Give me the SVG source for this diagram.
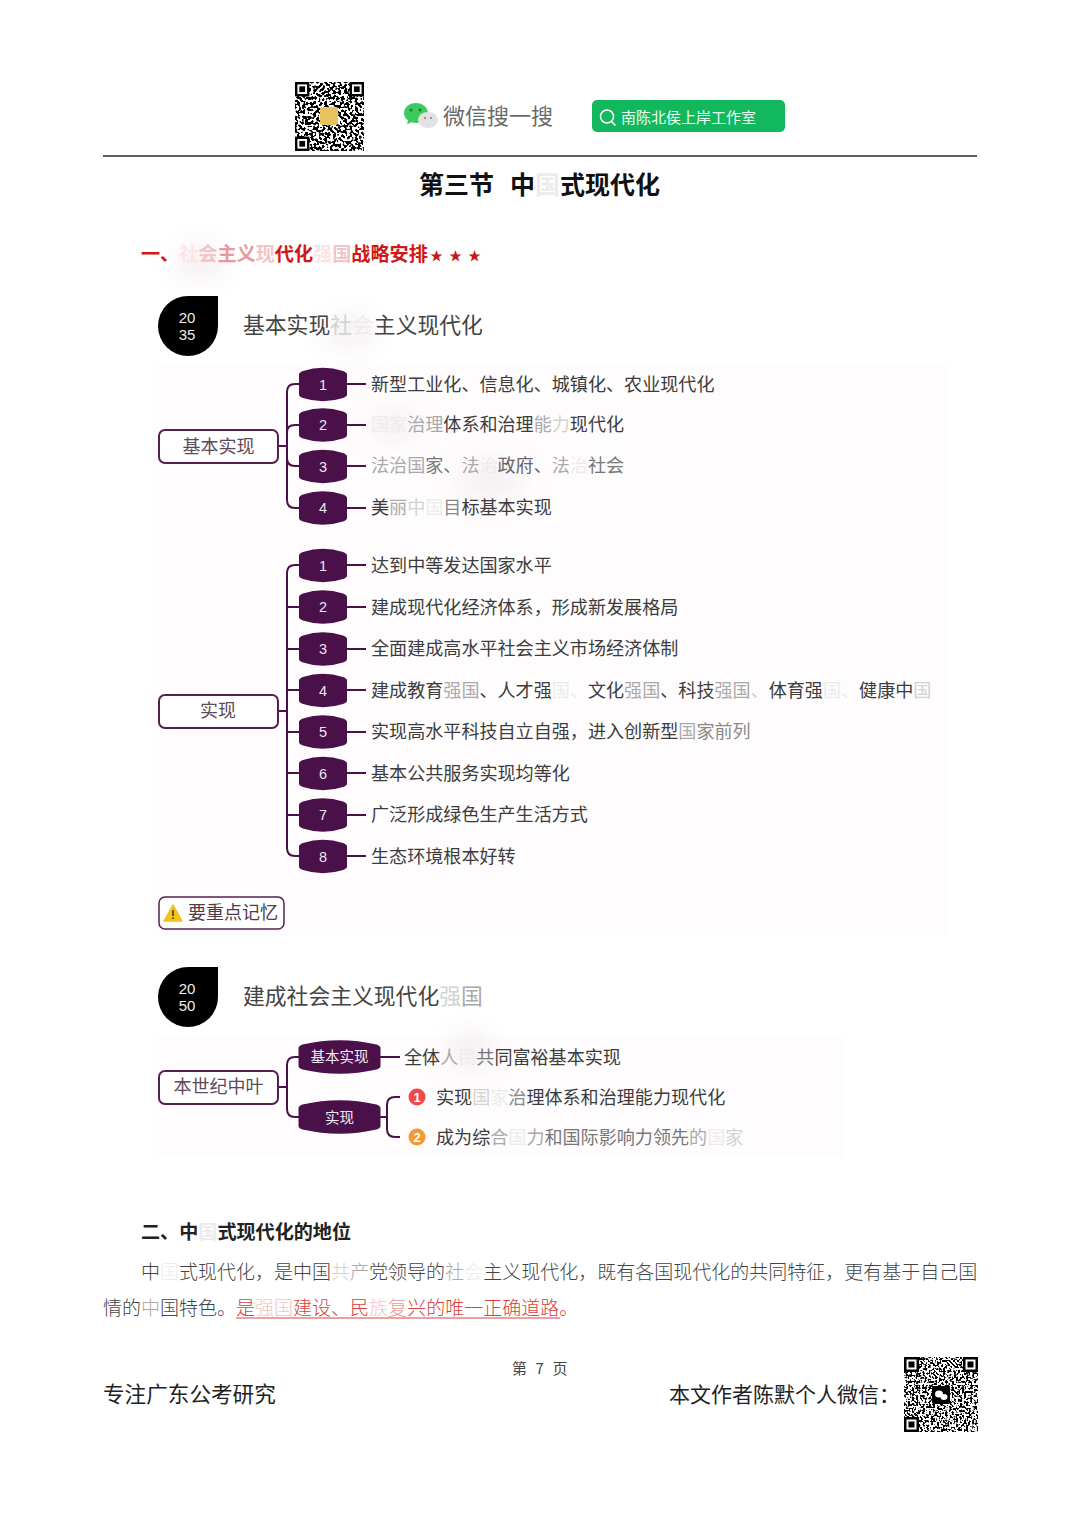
<svg xmlns="http://www.w3.org/2000/svg" width="1080" height="1528" viewBox="0 0 1080 1528">
<style>
text{font-family:"Noto Sans CJK SC","Liberation Sans",sans-serif}
.t{font-size:18.08px;fill:#3c3c3c}
.h{font-size:21.8px;fill:#444}
.n{font-family:"Liberation Sans",sans-serif;font-size:14.5px;fill:#f0e6f0;text-anchor:middle}
.nw{font-size:14.5px;fill:#f3eaf3;text-anchor:middle}
.b{font-size:18px;fill:#5d4a5c;text-anchor:middle}
.box{fill:#fff;stroke:#54204f;stroke-width:2}
.c{fill:none;stroke:#4a1049;stroke-width:2}
.p{font-size:19px;fill:#444;font-weight:300}
.f1{fill:#aaa}.f2{fill:#d2d2d2}.f3{fill:#ececec}
.r1{fill:#e89a9a}.r2{fill:#f2c4c4}.r3{fill:#fae6e6}
.drop{fill:#000}.node{fill:#4a1049}
.yr{font-family:"Liberation Sans",sans-serif;font-size:15px;fill:#eee;text-anchor:middle}
</style>
<defs>
<filter id="qr" x="0" y="0" width="100%" height="100%" color-interpolation-filters="sRGB">
<feTurbulence type="fractalNoise" baseFrequency="0.36" numOctaves="1" seed="7"/>
<feColorMatrix values="22 0 0 0 -10.6 22 0 0 0 -10.6 22 0 0 0 -10.6 0 0 0 0 1"/>
</filter>
<filter id="qr2" x="0" y="0" width="100%" height="100%" color-interpolation-filters="sRGB">
<feTurbulence type="fractalNoise" baseFrequency="0.48" numOctaves="1" seed="3"/>
<feColorMatrix values="16 0 0 0 -7.2 16 0 0 0 -7.2 16 0 0 0 -7.2 0 0 0 0 1"/>
</filter>
<filter id="soft" x="-50%" y="-50%" width="200%" height="200%"><feGaussianBlur stdDeviation="12"/></filter>
<path id="barrel" d="M-24 -10Q-24 -12 -20 -13.500Q0 -20 20 -13.500Q24 -12 24 -10V10Q24 12 20 13.500Q0 20 -20 13.500Q-24 12 -24 10Z"/>
<path id="barrelW" d="M-41 -9Q-41 -11 -37 -12.500Q0 -21 37 -12.500Q41 -11 41 -9V9Q41 11 37 12.500Q0 21 -37 12.500Q-41 11 -41 9Z"/>
<g id="finder"><rect x="1" y="1" width="10" height="10" fill="#fff" stroke="#000" stroke-width="2"/><rect x="3.600" y="3.600" width="4.800" height="4.800" fill="#000"/></g>
</defs>
<rect width="1080" height="1528" fill="#fff"/>

<rect id="panel-a" x="153" y="362" width="797" height="574" fill="#fefcfd"/>
<rect id="panel-b" x="153" y="1038" width="692" height="120" fill="#fefcfd"/>

<g id="smudges" filter="url(#soft)" fill="#f3e9ec" opacity=".7">
<ellipse cx="200" cy="262" rx="26" ry="18"/>
<ellipse cx="350" cy="332" rx="28" ry="16"/>
<ellipse cx="395" cy="425" rx="24" ry="14"/>
<ellipse cx="490" cy="480" rx="34" ry="18"/>
<ellipse cx="470" cy="1050" rx="22" ry="20"/>
</g>

<g id="header">
<g id="qr-top">
<rect x="295" y="82" width="69" height="69" filter="url(#qr)"/>
<use href="#finder" transform="translate(295 82) scale(1.2)"/>
<use href="#finder" transform="translate(349.600 82) scale(1.2)"/>
<use href="#finder" transform="translate(295 136.600) scale(1.2)"/>
<rect x="320" y="107" width="18" height="18" rx="2" fill="#e8c25e"/>
</g>
<g id="wechat-icon">
<path d="M416 103c-7 0-12 4.600-12 10 0 3 1.500 5.600 4 7.400l-1 4 4.300-2.200c1.500.5 3 .8 4.700.8 6.600 0 12-4.600 12-10s-5.400-10-12-10z" fill="#3fca5e"/>
<circle cx="411" cy="110" r="1.500" fill="#1c7a35"/><circle cx="420" cy="110" r="1.500" fill="#1c7a35"/>
<ellipse cx="428" cy="120" rx="10" ry="8" fill="#e2e2e2"/>
<circle cx="425" cy="118" r="1.200" fill="#999"/><circle cx="431" cy="118" r="1.200" fill="#999"/>
</g>
<text x="443" y="124" style="font-size:22px;fill:#6a6a6a">微信搜一搜</text>
<g id="search-badge">
<rect x="592" y="100" width="193" height="32" rx="5" fill="#12b85e"/>
<circle cx="607" cy="116.500" r="6.500" fill="none" stroke="#fff" stroke-width="1.500"/>
<path d="M611.500 121.500L615.500 125.500" stroke="#fff" stroke-width="1.500"/>
<text x="621" y="122.500" style="font-size:15px;fill:#e8fff2">南陈北侯上岸工作室</text>
</g>
<path d="M103 156H977" stroke="#2a2a2a" stroke-width="1.500"/>
</g>

<text y="194" style="font-size:25px;font-weight:700;fill:#111"><tspan x="419">第三节</tspan><tspan x="510">中</tspan><tspan class="f3">国</tspan>式现代化</text>
<text x="141" y="261" style="font-size:19.130px;font-weight:700;fill:#d01818">一、<tspan class="r3">社</tspan><tspan class="r2">会</tspan><tspan class="r1">主义</tspan><tspan class="r2">现</tspan>代化<tspan class="r3">强</tspan><tspan class="r2">国</tspan>战略安排</text>
<text x="430" y="260" style="font-size:13px;fill:#c81818">★</text>
<text x="449" y="260" style="font-size:13px;fill:#c81818">★</text>
<text x="468" y="260" style="font-size:13px;fill:#c81818">★</text>

<g id="stage-2035">
<path class="drop" d="M218 296V326A30 30 0 1 1 188 296Z"/>
<text class="yr" x="187" y="323">20</text><text class="yr" x="187" y="340">35</text>
<text class="h" x="243" y="333">基本实现<tspan class="f2">社</tspan><tspan class="f3">会</tspan>主义现代化</text>
</g>

<g id="connectors">
<path class="c" d="M278 446H287M287 392Q287 384 295 384H299M287 432Q287 425 295 425H299M287 458Q287 466 295 466H299M287 500Q287 508 295 508H299M287 392V500"/>
<path class="c" d="M347 384H366M347 425H366M347 466H366M347 508H366"/>
<path class="c" d="M278 711H287M287 573Q287 565 295 565H299M287 573V848Q287 856 295 856H299M287 607H299M287 649H299M287 690H299M287 732H299M287 773H299M287 815H299"/>
<path class="c" d="M347 565H366M347 607H366M347 649H366M347 690H366M347 732H366M347 773H366M347 815H366M347 856H366"/>
<path class="c" d="M278 1087H287M287 1065Q287 1057 295 1057H299M287 1065V1109Q287 1117 295 1117H299"/>
<path class="c" d="M380 1057H400M380 1117H387M387 1105Q387 1097 395 1097H400M387 1105V1129Q387 1137 395 1137H400"/>
</g>

<g id="root-basic"><rect class="box" x="159" y="430" width="119" height="33" rx="6"/><text class="b" x="218.500" y="453">基本实现</text></g>
<g id="root-real"><rect class="box" x="159" y="695" width="119" height="33" rx="6"/><text class="b" x="218" y="717">实现</text></g>

<g id="a1"><use class="node" href="#barrel" x="323" y="384.500"/><text class="n" x="323" y="389.500">1</text><text class="t" x="371" y="391">新型工业化、信息化、城镇化、农业现代化</text></g>
<g id="a2"><use class="node" href="#barrel" x="323" y="425"/><text class="n" x="323" y="430">2</text><text class="t" x="371" y="431"><tspan class="f3">国家</tspan><tspan class="f1">治理</tspan>体系和治理<tspan class="f1">能</tspan><tspan class="f2">力</tspan>现代化</text></g>
<g id="a3"><use class="node" href="#barrel" x="323" y="466.500"/><text class="n" x="323" y="471.500">3</text><text class="t" x="371" y="472"><tspan class="f1">法治国</tspan><tspan fill="#777">家、</tspan><tspan class="f1">法</tspan><tspan class="f3">治</tspan><tspan fill="#666">政府、</tspan><tspan class="f1">法</tspan><tspan class="f3">治</tspan><tspan fill="#777">社会</tspan></text></g>
<g id="a4"><use class="node" href="#barrel" x="323" y="508"/><text class="n" x="323" y="513">4</text><text class="t" x="371" y="514">美<tspan class="f1">丽</tspan><tspan class="f2">中</tspan><tspan class="f3">国</tspan><tspan fill="#888">目</tspan>标基本实现</text></g>

<g id="b1"><use class="node" href="#barrel" x="323" y="565.500"/><text class="n" x="323" y="570.500">1</text><text class="t" x="371" y="572">达到中等发达国家水平</text></g>
<g id="b2"><use class="node" href="#barrel" x="323" y="607"/><text class="n" x="323" y="612">2</text><text class="t" x="371" y="613.500">建成现代化经济体系，形成新发展格局</text></g>
<g id="b3"><use class="node" href="#barrel" x="323" y="649"/><text class="n" x="323" y="654">3</text><text class="t" x="371" y="655">全面建成高水平社会主义市场经济体制</text></g>
<g id="b4"><use class="node" href="#barrel" x="323" y="690.500"/><text class="n" x="323" y="695.500">4</text><text class="t" x="371" y="696.500">建成教育<tspan class="f1">强国</tspan>、人才强<tspan class="f3">国、</tspan>文化<tspan class="f1">强国</tspan>、科技<tspan class="f1">强国</tspan><tspan class="f2">、</tspan>体育强<tspan class="f3">国、</tspan>健康中<tspan class="f2">国</tspan></text></g>
<g id="b5"><use class="node" href="#barrel" x="323" y="732"/><text class="n" x="323" y="737">5</text><text class="t" x="371" y="738">实现高水平科技自立自强，进入创新型<tspan class="f1">国</tspan><tspan fill="#888">家前列</tspan></text></g>
<g id="b6"><use class="node" href="#barrel" x="323" y="773.500"/><text class="n" x="323" y="778.500">6</text><text class="t" x="371" y="780">基本公共服务实现均等化</text></g>
<g id="b7"><use class="node" href="#barrel" x="323" y="815"/><text class="n" x="323" y="820">7</text><text class="t" x="371" y="821">广泛形成绿色生产生活方式</text></g>
<g id="b8"><use class="node" href="#barrel" x="323" y="856.500"/><text class="n" x="323" y="861.500">8</text><text class="t" x="371" y="862.500">生态环境根本好转</text></g>

<g id="memo">
<rect class="box" x="159" y="897" width="125" height="32" rx="6" style="stroke-width:1.500"/>
<path d="M173 905L182 921H164Z" fill="#f2c21b" stroke="#f2c21b" stroke-linejoin="round" stroke-width="1.500"/>
<path d="M173 910V916M173 917.500V919" stroke="#333" stroke-width="1.500"/>
<text x="188" y="919" style="font-size:18px;fill:#4d3c4c">要重点记忆</text>
</g>

<g id="stage-2050">
<path class="drop" d="M218 967V997A30 30 0 1 1 188 967Z"/>
<text class="yr" x="187" y="994">20</text><text class="yr" x="187" y="1011">50</text>
<text class="h" x="243" y="1004">建成社会主义现代化<tspan class="f2">强</tspan><tspan fill="#aaa">国</tspan></text>
</g>

<g id="root-mid"><rect class="box" x="159" y="1071" width="119" height="33" rx="6"/><text class="b" x="218.500" y="1093">本世纪中叶</text></g>
<g id="c1"><use class="node" href="#barrelW" x="339.500" y="1057"/><text class="nw" x="339.500" y="1062">基本实现</text>
<text class="t" x="404" y="1063.500">全体<tspan class="f1">人</tspan><tspan class="f3">民</tspan><tspan fill="#777">共</tspan>同富裕基本实现</text></g>
<g id="c2"><use class="node" href="#barrelW" x="339.500" y="1117"/><text class="nw" x="339.500" y="1122.500">实现</text></g>
<g id="c3"><circle cx="417" cy="1097" r="8.500" fill="#f14a4a"/><text class="n" style="fill:#fff;font-weight:700;font-size:13px" x="417" y="1102">1</text>
<text class="t" x="436" y="1104">实现<tspan class="f2">国</tspan><tspan class="f3">家</tspan><tspan fill="#888">治</tspan>理体系和治理能力现代化</text></g>
<g id="c4"><circle cx="417" cy="1137" r="8.500" fill="#f39a34"/><text class="n" style="fill:#fff;font-weight:700;font-size:13px" x="417" y="1142">2</text>
<text class="t" x="436" y="1143.500">成为综<tspan class="f1">合</tspan><tspan class="f3">国</tspan><tspan class="f1">力</tspan><tspan fill="#777">和国际影响力领先</tspan><tspan class="f1">的</tspan><tspan class="f3">国</tspan><tspan class="f2">家</tspan></text></g>

<text x="141" y="1239" style="font-size:19.100px;font-weight:700;fill:#222">二、中<tspan class="f3">国</tspan>式现代化的地位</text>
<text class="p" x="141" y="1279">中<tspan class="f3">国</tspan>式现代化，是中国<tspan class="f2">共</tspan><tspan class="f1">产</tspan>党领导的<tspan class="f1">社</tspan><tspan class="f3">会</tspan>主义现代化，既有各国现代化的共同特征，更有基于自己国</text>
<text class="p" x="103" y="1315">情的<tspan class="f1">中</tspan>国特色。<tspan fill="#d84040">是<tspan class="r2">强国</tspan>建设、民<tspan class="r2">族</tspan><tspan class="r1">复</tspan>兴的唯一正确道路。</tspan></text>
<path d="M236 1318H560" stroke="#d84040" stroke-width="1"/>

<g id="footer">
<text y="1374" style="font-size:15px;fill:#444"><tspan x="512">第</tspan><tspan x="535.500">7</tspan><tspan x="552.500">页</tspan></text>
<text x="103" y="1402" style="font-size:21.600px;fill:#222">专注广东公考研究</text>
<text x="669" y="1402" style="font-size:21px;fill:#222">本文作者陈默个人微信：</text>
<g id="qr-bottom">
<rect x="904" y="1357" width="74" height="75" filter="url(#qr2)"/>
<use href="#finder" transform="translate(904 1357) scale(1.25)"/>
<use href="#finder" transform="translate(963 1357) scale(1.25)"/>
<use href="#finder" transform="translate(904 1417) scale(1.25)"/>
<rect x="932" y="1386" width="18" height="18" rx="2" fill="#000"/>
<ellipse cx="939" cy="1394" rx="4" ry="3.500" fill="#fff"/><ellipse cx="944" cy="1397" rx="3.500" ry="3" fill="#fff"/>
</g>
</g>
</svg>
